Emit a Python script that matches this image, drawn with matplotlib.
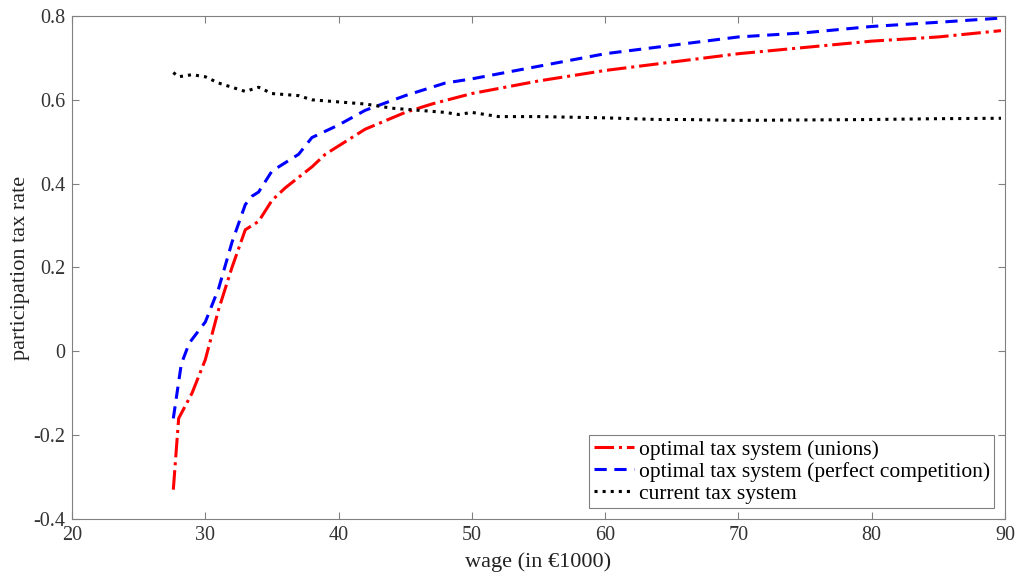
import matplotlib.pyplot as plt
import numpy as np

plt.rcParams['font.family'] = ['Liberation Serif', 'DejaVu Serif']

# optimal tax system (unions)
x_unions = [27.6, 28.0, 29, 30, 31, 32, 33, 33.5, 34, 35, 36, 38, 39, 40, 42, 45, 47, 50, 55, 60, 65, 70, 75, 80, 85, 89.7]
y_unions = [-0.33, -0.16, -0.10, -0.02, 0.10, 0.20, 0.29, 0.30, 0.31, 0.36, 0.39, 0.44, 0.47, 0.49, 0.53, 0.57, 0.59, 0.615, 0.645, 0.67, 0.69, 0.71, 0.725, 0.74, 0.75, 0.765]

# optimal tax system (perfect competition)
x_comp = [27.6, 28.2, 28.8, 30, 31, 32, 33, 33.5, 34, 35, 37, 38, 40, 42, 45, 48, 50, 55, 60, 65, 70, 75, 80, 85, 89.7]
y_comp = [-0.16, -0.03, 0.02, 0.07, 0.15, 0.26, 0.35, 0.37, 0.38, 0.43, 0.47, 0.51, 0.54, 0.575, 0.61, 0.64, 0.65, 0.68, 0.71, 0.73, 0.75, 0.76, 0.775, 0.785, 0.795]

# current tax system
x_curr = [27.6, 28, 29, 30, 31, 32, 33, 34, 35, 37, 38, 40, 42, 44, 46, 48, 49, 50, 51, 52, 55, 60, 64, 66, 70, 75, 80, 85, 89.7]
y_curr = [0.665, 0.655, 0.66, 0.655, 0.64, 0.63, 0.62, 0.63, 0.615, 0.61, 0.60, 0.595, 0.59, 0.58, 0.575, 0.57, 0.565, 0.57, 0.565, 0.56, 0.56, 0.557, 0.553, 0.553, 0.551, 0.552, 0.553, 0.555, 0.556]

fig = plt.figure(figsize=(10.23, 5.79), dpi=100)
ax = fig.add_axes([0.0704, 0.1036, 0.912, 0.8688])

ax.plot(x_unions, y_unions, color='#ff0000', linestyle='-.', linewidth=2.2, label='optimal tax system (unions)')
ax.plot(x_comp, y_comp, color='#0000ff', linestyle=(0, (4, 2.5)), linewidth=2.2, label='optimal tax system (perfect competition)')
ax.plot(x_curr, y_curr, color='black', linestyle=':', linewidth=2.2, label='current tax system')

ax.set_xlim(20, 90)
ax.set_ylim(-0.4, 0.8)
ax.set_xticks(np.arange(20, 91, 10))
ax.set_yticks(np.arange(-0.4, 0.81, 0.2))
ax.set_yticklabels(['-0.4', '-0.2', '0', '0.2', '0.4', '0.6', '0.8'])
ax.tick_params(direction='in', top=True, right=True, labelsize=14.5, color='#808080',
               labelcolor='#333333', length=5, pad=5)
for s in ax.spines.values():
    s.set_color('#808080')

ax.set_xlabel('wage (in €1000)', fontsize=16, labelpad=5, color='#222222')
ax.set_ylabel('participation tax rate', fontsize=16, labelpad=2, color='#222222')

leg = ax.legend(loc='lower right', fontsize=15.5, fancybox=False, framealpha=1,
                edgecolor='#808080', borderpad=0.2, labelspacing=0.1, handlelength=1.9,
                handletextpad=0.2, borderaxespad=0.5)
leg.get_frame().set_linewidth(0.8)

fig.savefig('out.png', dpi=100)
